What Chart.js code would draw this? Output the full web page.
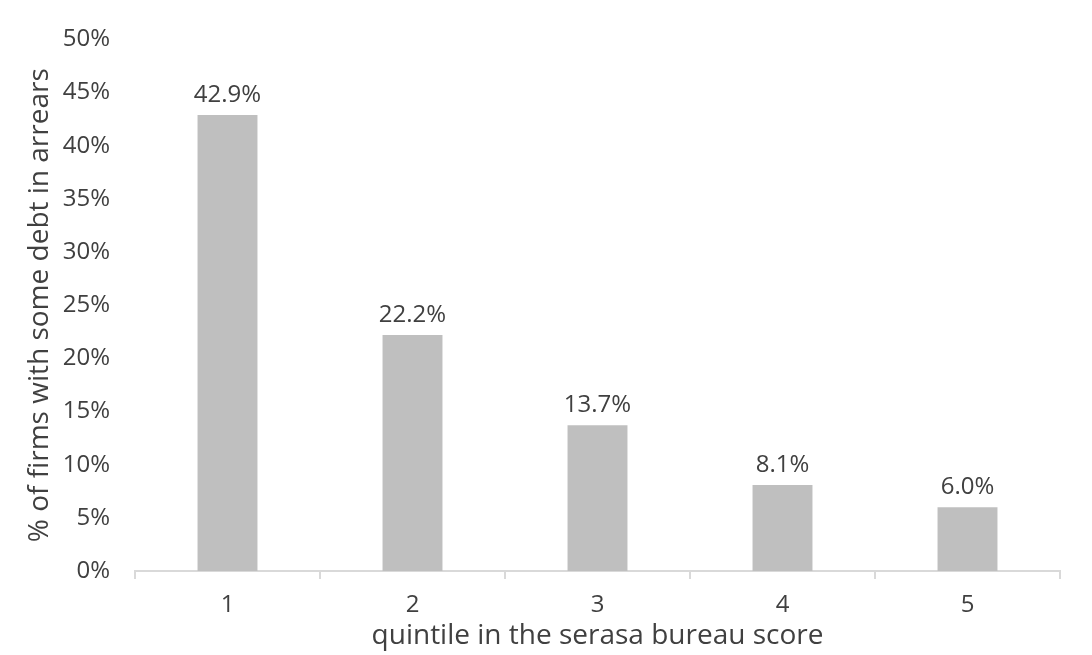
<!DOCTYPE html>
<html>
<head>
<meta charset="utf-8">
<script src="https://cdn.jsdelivr.net/npm/chart.js@4/dist/chart.umd.min.js"></script>
<style>
  html, body { margin: 0; padding: 0; background: #ffffff; }
  #wrap { width: 1092px; height: 655px; }
</style>
</head>
<body>
<div id="wrap"><canvas id="c" width="1092" height="655"></canvas></div>
<script>
// Share of firms with some debt in arrears, by Serasa bureau score quintile
const quintiles = ['1', '2', '3', '4', '5'];
const arrearsShare = [42.9, 22.2, 13.7, 8.1, 6.0];
const yTickMax = 50;
const yTickStep = 5;

const textColor = '#404040';
const fontFamily = '"Open Sans", "Noto Sans", sans-serif';

// Draws the value above each bar, e.g. "42.9%"
const valueLabels = {
  id: 'valueLabels',
  afterDatasetsDraw(chart) {
    const ctx = chart.ctx;
    const meta = chart.getDatasetMeta(0);
    ctx.save();
    ctx.fillStyle = textColor;
    ctx.font = '24px ' + fontFamily;
    ctx.textAlign = 'center';
    ctx.textBaseline = 'bottom';
    meta.data.forEach((bar, i) => {
      const v = chart.data.datasets[0].data[i];
      ctx.fillText(v.toFixed(1) + '%', bar.x, bar.y - 8);
    });
    ctx.restore();
  }
};

new Chart(document.getElementById('c'), {
  type: 'bar',
  data: {
    labels: quintiles,
    datasets: [{
      data: arrearsShare,
      backgroundColor: '#bfbfbf',
      borderWidth: 0,
      barPercentage: 0.324,
      categoryPercentage: 1.0
    }]
  },
  options: {
    responsive: false,
    animation: false,
    devicePixelRatio: 1,
    layout: { padding: { top: 38, right: 32, left: 0, bottom: 0 } },
    plugins: {
      legend: { display: false },
      tooltip: { enabled: false }
    },
    scales: {
      x: {
        offset: true,
        grid: {
          display: true,
          offset: true,
          drawOnChartArea: false,
          drawTicks: true,
          tickLength: 8,
          color: '#d9d9d9',
          lineWidth: 2
        },
        border: { display: true, color: '#d9d9d9', width: 2 },
        ticks: {
          color: textColor,
          font: { family: fontFamily, size: 24 },
          padding: 12
        },
        title: {
          display: true,
          text: 'quintile in the serasa bureau score',
          color: textColor,
          font: { family: fontFamily, size: 28 },
          padding: { top: 0, bottom: 2 }
        },
        afterFit(scale) { scale.height = 84; }
      },
      y: {
        min: 0,
        max: yTickMax,
        grid: { display: false, drawTicks: false },
        border: { display: false },
        ticks: {
          stepSize: yTickStep,
          color: textColor,
          font: { family: fontFamily, size: 24 },
          padding: 25,
          callback: (v) => v + '%'
        },
        title: {
          display: true,
          text: '% of firms with some debt in arrears',
          color: textColor,
          font: { family: fontFamily, size: 28 },
          padding: { top: 23, bottom: 0 }
        },
        afterFit(scale) { scale.width = 135; }
      }
    }
  },
  plugins: [valueLabels]
});
</script>
</body>
</html>
